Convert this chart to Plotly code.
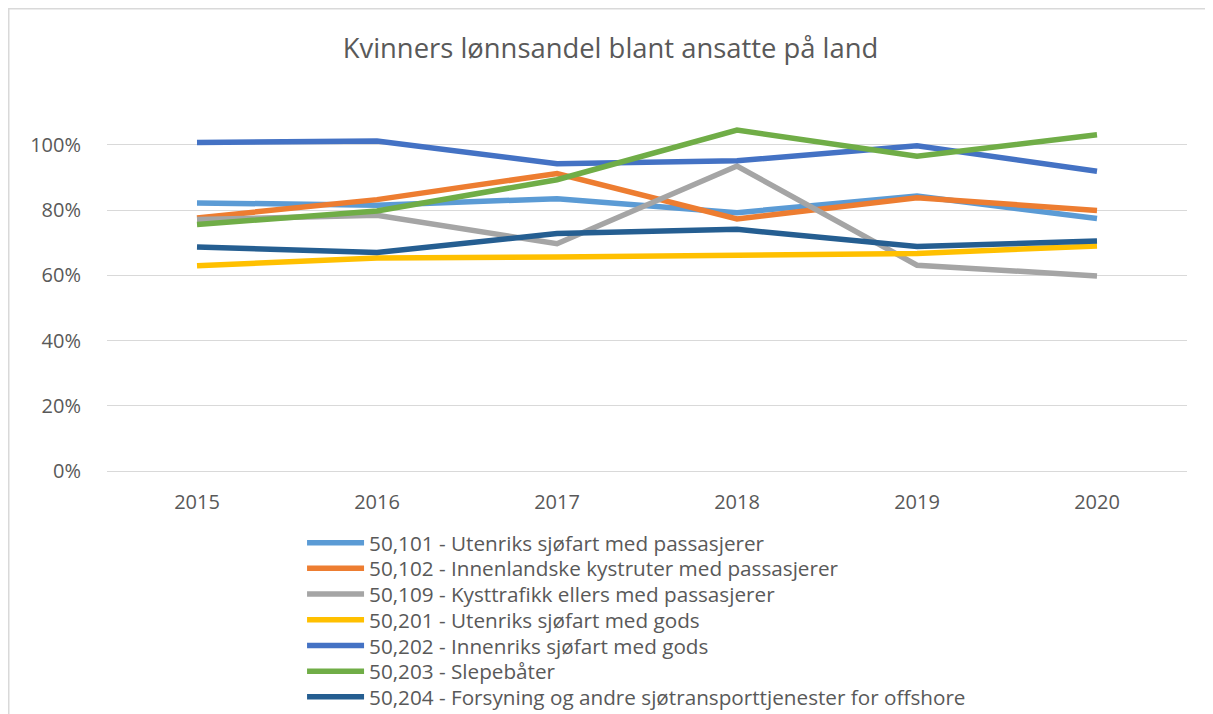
import plotly.graph_objects as go

years = ["2015", "2016", "2017", "2018", "2019", "2020"]

s50101 = [0.822, 0.815, 0.835, 0.792, 0.843, 0.774]
s50102 = [0.776, 0.832, 0.912, 0.773, 0.838, 0.799]
s50109 = [0.771, 0.784, 0.697, 0.935, 0.631, 0.598]
s50201 = [0.629, 0.653, 0.656, 0.662, 0.667, 0.690]
s50202 = [1.007, 1.012, 0.942, 0.951, 0.997, 0.919]
s50203 = [0.756, 0.797, 0.893, 1.045, 0.965, 1.031]
s50204 = [0.687, 0.670, 0.728, 0.741, 0.688, 0.705]

names = [
    "50,101 - Utenriks sjøfart med passasjerer",
    "50,102 - Innenlandske kystruter med passasjerer",
    "50,109 - Kysttrafikk ellers med passasjerer",
    "50,201 - Utenriks sjøfart med gods",
    "50,202 - Innenriks sjøfart med gods",
    "50,203 - Slepebåter",
    "50,204 - Forsyning og andre sjøtransporttjenester for offshore",
]
series = [s50101, s50102, s50109, s50201, s50202, s50203, s50204]
colors = ["#5B9BD5", "#ED7D31", "#A5A5A5", "#FFC000", "#4472C4", "#70AD47", "#255E91"]

# page has an 8px body margin, so the figure is a bit smaller than the window
W, H = 1205, 706
ML, MR, MT, MB = 99, 26, 114, 243
plot_h = H - MT - MB

fig = go.Figure()
legends = {}
for i, (name, vals, col) in enumerate(zip(names, series, colors)):
    key = 'legend' if i == 0 else f'legend{i + 1}'
    fig.add_trace(go.Scatter(
        x=years, y=vals, name=name, mode='lines',
        line=dict(color=col, width=5.5),
        legend=key,
        showlegend=True,
    ))
    # one legend per entry so the row spacing can follow the original (~25.7px)
    row_y = 534.7 + 25.7 * i
    legends[key] = dict(
        x=0.1806, xanchor='left',
        y=(H - MB - row_y) / plot_h, yanchor='middle',
        font=dict(family='Open Sans', size=20.7, color='#595959'),
        itemwidth=57,
        bgcolor='rgba(0,0,0,0)',
    )

fig.update_layout(
    width=W,
    height=H,
    showlegend=True,
    margin=dict(l=ML, r=MR, t=MT, b=MB, autoexpand=False),
    plot_bgcolor='white',
    paper_bgcolor='white',
    font=dict(family='Open Sans', color='#595959'),
    title=dict(
        text='Kvinners lønnsandel blant ansatte på land',
        x=0.5, xanchor='center', y=1 - 40 / H, yanchor='middle',
        font=dict(size=27.4, color='#595959'),
    ),
    xaxis=dict(
        type='category',
        range=[-0.5, 5.5],
        showgrid=False,
        showline=False,
        ticks='',
        tickfont=dict(size=20, color='#595959'),
        ticklabelstandoff=17,
    ),
    yaxis=dict(
        range=[0, 1.07],
        tickvals=[0, 0.2, 0.4, 0.6, 0.8, 1.0],
        ticktext=['0%', '20%', '40%', '60%', '80%', '100%'],
        showgrid=True,
        gridcolor='#D9D9D9',
        gridwidth=1,
        zeroline=True,
        zerolinecolor='#D9D9D9',
        zerolinewidth=1,
        showline=False,
        ticks='',
        tickfont=dict(size=20, color='#595959'),
        ticklabelstandoff=25,
    ),
    shapes=[dict(
        type='rect', xref='paper', yref='paper',
        x0=(0.75 - ML) / 1080, x1=(1201 - ML) / 1080,
        y0=(H - MB - 730) / plot_h, y1=(H - MB - 0.75) / plot_h,
        line=dict(color='#D9D9D9', width=1.5),
        fillcolor='rgba(0,0,0,0)', layer='below',
    )],
    **legends,
)

fig.write_html("out.html")
